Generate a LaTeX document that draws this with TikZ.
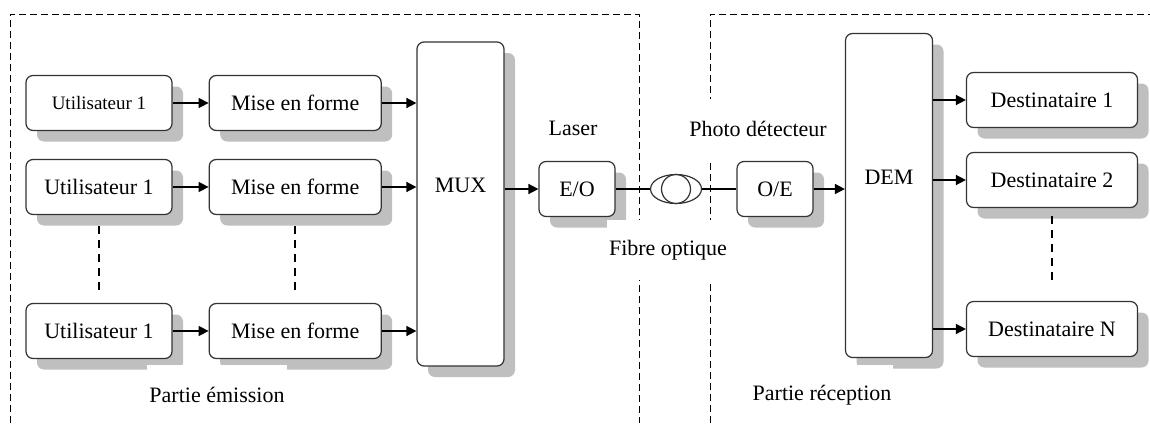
\documentclass[tikz,border=0pt]{standalone}
\usepackage{fontspec}
\setmainfont{Liberation Serif}
\usetikzlibrary{arrows.meta,positioning,shapes.geometric,shadows}

\begin{document}
\begin{tikzpicture}[
  x=0.5pt,y=-0.5pt,
  node distance=18pt,
  bloc/.style={rectangle,draw=black!80,line width=0.6pt,rounded corners=3.5pt,fill=white,
    drop shadow={shadow xshift=5.5pt,shadow yshift=-5.5pt,fill=black!25,opacity=1},
    minimum height=27.5pt,inner sep=0pt,font=\fontsize{11}{13}\selectfont},
  user/.style={bloc,minimum width=73pt},
  forme/.style={bloc,minimum width=86pt},
  dest/.style={bloc,minimum width=85.5pt},
  conv/.style={bloc,minimum width=38pt},
  grand/.style={bloc,minimum width=43.5pt,minimum height=162pt},
  lbl/.style={fill=white,inner sep=1pt,minimum height=30pt,font=\fontsize{11}{13}\selectfont},
  arr/.style={-{Triangle[length=5pt,width=5pt]},line width=0.75pt},
  fil/.style={line width=1.4pt},
  pts/.style={dash pattern=on 4pt off 3pt,line width=0.9pt},
  cadre/.style={dash pattern=on 3.5pt off 2pt,line width=0.5pt}
]
\useasboundingbox (0,0) rectangle (1150,423);
% cadres
\draw[cadre] (10,423) -- (10,14) -- (639,14) -- (639,423);
\draw[cadre] (710,423) -- (710,14) -- (1150,14);

% partie emission
\node[user,font=\fontsize{9.5}{11}\selectfont] (u1) at (99,103) {Utilisateur 1};
\node[user] (u2) at (99,187) {Utilisateur 1};
\node[user] (u3) at (99,331) {Utilisateur 1};
\node[forme,right=of u1] (f1) {Mise en forme};
\node[forme,right=of u2] (f2) {Mise en forme};
\node[forme,right=of u3] (f3) {Mise en forme};
\node[grand,text depth=19pt] (mux) at (460.5,204) {MUX};
\node[conv] (eo) at (577,189) {E/O};
\node[lbl] (laser) at (573,128) {Laser};

% fibre
\node[ellipse,draw=black!80,line width=0.6pt,minimum width=25.5pt,minimum height=14.5pt,inner sep=0pt] (fib) at (676,189) {};
\node[circle,draw=black!80,line width=0.6pt,minimum size=14.5pt,inner sep=0pt] (bob) at (fib.center) {};
\node[lbl] (fibtxt) at (668,250) {Fibre optique};

% partie reception
\node[conv] (oe) at (775,189) {O/E};
\node[lbl] (pd) at (758,129) {Photo détecteur};
\node[grand,text depth=18pt] (dem) at (889,195.5) {DEM};
\node[dest] (d1) at (1052,100) {Destinataire 1};
\node[dest] (d2) at (1052,180) {Destinataire 2};
\node[dest] (dN) at (1052,329) {Destinataire N};

\node[lbl] (pe) at (217,395) {Partie émission};
\node[lbl] (pr) at (822,395) {Partie réception};

% liaisons
\foreach \i in {1,2,3} {
  \draw[arr] (u\i) -- (f\i);
  \draw[arr] (f\i) -- (f\i -| mux.west);
}
\draw[arr] (mux.east |- eo) -- (eo);
\draw[fil] (eo) -- (fib);
\draw[fil] (fib) -- (oe);
\draw[arr] (oe) -- (oe -| dem.west);
\foreach \d in {d1,d2,dN} { \draw[arr] (dem.east |- \d) -- (\d); }
\foreach \a/\b in {u2/u3,f2/f3} { \draw[pts,shorten <=5.5pt,shorten >=6pt] (\a) -- (\b); }
\draw[pts,shorten <=4pt,shorten >=9.5pt] (d2) -- (dN);
\end{tikzpicture}
\end{document}
